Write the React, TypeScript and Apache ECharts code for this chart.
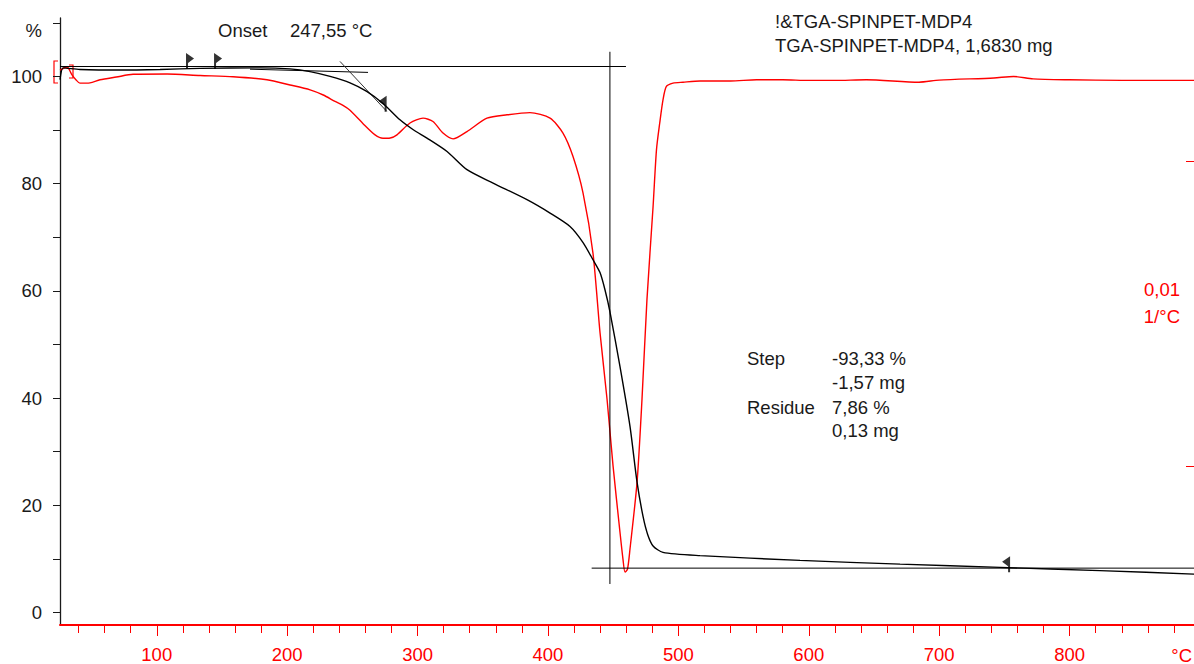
import React, { useEffect, useRef } from "react";
import * as echarts from "echarts";

const FONT = "'Liberation Sans', Arial, sans-serif";
const RED = "#ff0000";
const INK = "#1a1a1a";

// axis ranges
const xMin = 25.8;
const xMax = 900;
const yMin = -2.35;
const yMax = 110.9;
const dtgMin = -17.885;
const dtgMax = 2.049;

// tick values / labels
const xMajorTicks = [100, 200, 300, 400, 500, 600, 700, 800];
const xMinorTicks = [40, 60, 80, 100, 120, 140, 160, 180, 200, 220, 240, 260, 280, 300, 320, 340, 360, 380, 400, 420, 440, 460, 480, 500, 520, 540, 560, 580, 600, 620, 640, 660, 680, 700, 720, 740, 760, 780, 800, 820, 840, 860, 880];
const xUnitLabel = "°C";
const yTickLabels = [0, 20, 40, 60, 80, 100];
const yTicks = [0, 10, 20, 30, 40, 50, 60, 70, 80, 90, 100, 110];
const yUnitLabel = "%";
const dtgScaleTicks = [-2.66, -12.66];
const dtgScaleLabelAt = [-7.31];
const dtgScaleLabel = "0,01\n1/°C";

// TGA curve (temperature °C, mass %)
const tgaTemp = [25.8, 28.1, 32, 41.1, 71.8, 102.5, 133.2, 179.2, 202.2, 217.5, 232.9, 248.2, 261.0, 273.7, 286.5, 297.0, 307.2, 322.6, 337.9, 357.9, 383.9, 401.6, 416.9, 426.9, 434.5, 439.9, 443.7, 447.6, 455.2, 462.9, 468.3, 472.9, 476.5, 480.6, 488.2, 516.6, 593.3, 670.0, 746.7, 823.3, 900];
const tgaMass = [99.4, 101.6, 101.5, 101.3, 101.2, 101.3, 101.5, 101.6, 101.4, 100.9, 100.0, 98.8, 97.2, 94.9, 91.9, 90.0, 88.5, 86.0, 82.6, 80.1, 77.0, 74.5, 72.0, 69.0, 65.8, 63.4, 60.2, 56.0, 45.9, 34.7, 24.3, 17.9, 14.5, 12.4, 11.2, 10.6, 9.7, 9.0, 8.4, 7.8, 7.1];

// DTG curve (temperature °C, rate in 0.001 1/°C)
const dtgTemp = [25.8, 31.2, 35.0, 38.0, 41.1, 48.8, 56.5, 69.0, 81.8, 107.9, 133.2, 158.5, 184.5, 202.2, 217.6, 227.7, 236.7, 242.8, 248.2, 258.2, 267.4, 273.5, 279.0, 284.2, 294.2, 304.2, 311.8, 319.5, 327.2, 337.9, 353.2, 368.6, 386.2, 401.6, 411.5, 419.2, 426.9, 434.5, 439.9, 445.3, 449.9, 455.2, 457.5, 459.1, 461.0, 462.9, 468.3, 472.1, 475.9, 480.6, 483.2, 485.7, 488.2, 490.8, 495.9, 503.6, 516.6, 540, 560, 580, 600, 620, 644, 684.5, 700, 742, 757, 772, 800, 840, 900];
const dtgRate = [0.34, 0.44, 0.18, 0.02, -0.09, -0.08, 0.02, 0.11, 0.20, 0.21, 0.16, 0.12, 0.02, -0.15, -0.31, -0.48, -0.69, -0.82, -0.98, -1.42, -1.79, -1.90, -1.89, -1.79, -1.40, -1.24, -1.35, -1.73, -1.92, -1.68, -1.24, -1.13, -1.06, -1.24, -1.73, -2.50, -3.70, -5.67, -8.28, -10.47, -12.66, -14.83, -15.72, -16.15, -16.05, -15.39, -13.20, -10.47, -7.20, -4.14, -2.28, -1.40, -0.64, -0.20, -0.09, -0.06, -0.02, -0.02, 0.02, 0.02, 0.0, 0.0, 0.02, -0.06, 0.01, 0.08, 0.13, 0.05, 0.02, 0.0, 0.0];

// evaluation construction lines (°C, %)
const onsetLevelLine = [[25.8, 101.85], [459.8, 101.85]];
const onsetBaseline = [[171.5, 101.35], [262.0, 100.75]];
const onsetTangent = [[240.5, 102.8], [276.3, 93.5]];
const stepMidLine = [[447.5, 104.6], [447.5, 5.3]];
const residueLine = [[433.5, 8.26], [900, 8.26]];

// evaluation limit flags (°C, %)
const flagsRight = [[123.2, 101.4], [144.7, 101.4]];
const flagsLeft = [[275.5, 93.4], [753.6, 7.5]];

// texts
const onsetLabel = "Onset";
const onsetValue = "247,55 °C";
const titleLines = ["!&TGA-SPINPET-MDP4", "TGA-SPINPET-MDP4, 1,6830 mg"];
const stepLabels = ["Step", "Residue"];
const stepValues = ["-93,33 %", "-1,57 mg", "7,86 %", "0,13 mg"];

const zip = (a: number[], b: number[]) => a.map((v, i) => [v, b[i]]);

function lineSeries(data: number[][], color: string, width = 1) {
  return {
    type: "line",
    data,
    xAxisIndex: 0,
    yAxisIndex: 0,
    showSymbol: false,
    symbol: "none",
    silent: true,
    lineStyle: { color, width },
    z: 3,
  };
}

const txt = (x: number, y: number, text: string, color = INK, align = "left") => ({
  type: "text",
  x,
  y,
  silent: true,
  style: {
    text,
    fill: color,
    font: `18.5px ${FONT}`,
    textAlign: align,
    textVerticalAlign: "middle",
  },
});

export default function App() {
  const ref = useRef<HTMLDivElement>(null);

  useEffect(() => {
    if (!ref.current) return;
    const chart = echarts.init(ref.current, undefined, { renderer: "svg" });

    const option: any = {
      animation: false,
      grid: { left: 60, top: 18, right: 10, bottom: 38 },
      xAxis: [
        {
          type: "value",
          min: xMin,
          max: xMax,
          position: "bottom",
          axisLine: { show: true, onZero: false, lineStyle: { color: RED, width: 2 } },
          axisTick: { show: true, customValues: xMinorTicks, length: 8, lineStyle: { color: RED, width: 1 } },
          axisLabel: {
            customValues: xMajorTicks,
            color: RED,
            fontSize: 18.5,
            fontFamily: FONT,
            margin: 20,
          },
          splitLine: { show: false },
        },
        {
          type: "value",
          min: xMin,
          max: xMax,
          position: "bottom",
          axisLine: { show: false, onZero: false },
          axisTick: { show: true, customValues: xMajorTicks, length: 11, lineStyle: { color: RED, width: 1 } },
          axisLabel: { show: false },
          splitLine: { show: false },
        },
      ],
      yAxis: [
        {
          type: "value",
          min: yMin,
          max: yMax,
          position: "left",
          axisLine: { show: true, onZero: false, lineStyle: { color: INK, width: 1.3 } },
          axisTick: { show: true, customValues: yTicks, length: 7, lineStyle: { color: INK } },
          axisLabel: {
            customValues: yTickLabels,
            color: INK,
            fontSize: 18.5,
            fontFamily: FONT,
            margin: 18,
          },
          splitLine: { show: false },
        },
        {
          type: "value",
          min: dtgMin,
          max: dtgMax,
          position: "right",
          axisLine: { show: false, onZero: false },
          axisTick: { show: true, inside: true, customValues: dtgScaleTicks, length: 14, lineStyle: { color: RED } },
          axisLabel: {
            inside: true,
            customValues: dtgScaleLabelAt,
            formatter: () => dtgScaleLabel,
            color: RED,
            fontSize: 18.5,
            fontFamily: FONT,
            margin: 20,
            lineHeight: 27,
            align: "right",
          },
          splitLine: { show: false },
        },
      ],
      series: [
        {
          type: "line",
          name: "DTG",
          data: zip(dtgTemp, dtgRate),
          xAxisIndex: 0,
          yAxisIndex: 1,
          showSymbol: false,
          symbol: "none",
          smooth: 0.25,
          lineStyle: { color: RED, width: 1.4 },
          z: 2,
        },
        {
          type: "line",
          name: "TGA",
          data: zip(tgaTemp, tgaMass),
          xAxisIndex: 0,
          yAxisIndex: 0,
          showSymbol: false,
          symbol: "none",
          smooth: 0.25,
          lineStyle: { color: "#000", width: 1.4 },
          z: 4,
        },
        lineSeries(onsetLevelLine, "#000", 1),
        lineSeries(onsetBaseline, "#000", 1),
        lineSeries(onsetTangent, "#333", 1),
        lineSeries(stepMidLine, "#000", 1),
        lineSeries(residueLine, "#000", 1),
        {
          type: "scatter",
          data: flagsRight,
          symbol: "path://M0,0L8,5.5L2,10L2,16L0,16Z",
          symbolSize: [8, 16],
          symbolOffset: [3, -8],
          itemStyle: { color: "#000" },
          silent: true,
          z: 5,
        },
        {
          type: "scatter",
          data: flagsLeft,
          symbol: "path://M8,0L0,5.5L6,10L6,16L8,16Z",
          symbolSize: [8, 16],
          symbolOffset: [-3, -8],
          itemStyle: { color: "#000" },
          silent: true,
          z: 5,
        },
      ],
      graphic: [
        txt(42, 30, yUnitLabel, INK, "right"),
        txt(218, 30, onsetLabel),
        txt(290, 30, onsetValue),
        txt(775, 21, titleLines[0]),
        txt(775, 45, titleLines[1]),
        txt(747, 358, stepLabels[0]),
        txt(832, 358, stepValues[0]),
        txt(832, 382, stepValues[1]),
        txt(747, 407, stepLabels[1]),
        txt(832, 407, stepValues[2]),
        txt(832, 430, stepValues[3]),
        txt(1192, 655, xUnitLabel, RED, "right"),
        {
          type: "polyline",
          silent: true,
          shape: { points: [[58, 61], [54, 61], [54, 83], [58, 83]] },
          style: { stroke: RED, lineWidth: 1.2, fill: "none" },
        },
        {
          type: "polyline",
          silent: true,
          shape: { points: [[69, 65], [73, 65], [73, 78], [69, 78]] },
          style: { stroke: RED, lineWidth: 1.2, fill: "none" },
        },
      ],
    };

    chart.setOption(option);
    return () => chart.dispose();
  }, []);

  return (
    <div
      ref={ref}
      style={{ position: "fixed", left: 0, top: 0, width: 1210, height: 664, background: "#fff" }}
    />
  );
}
